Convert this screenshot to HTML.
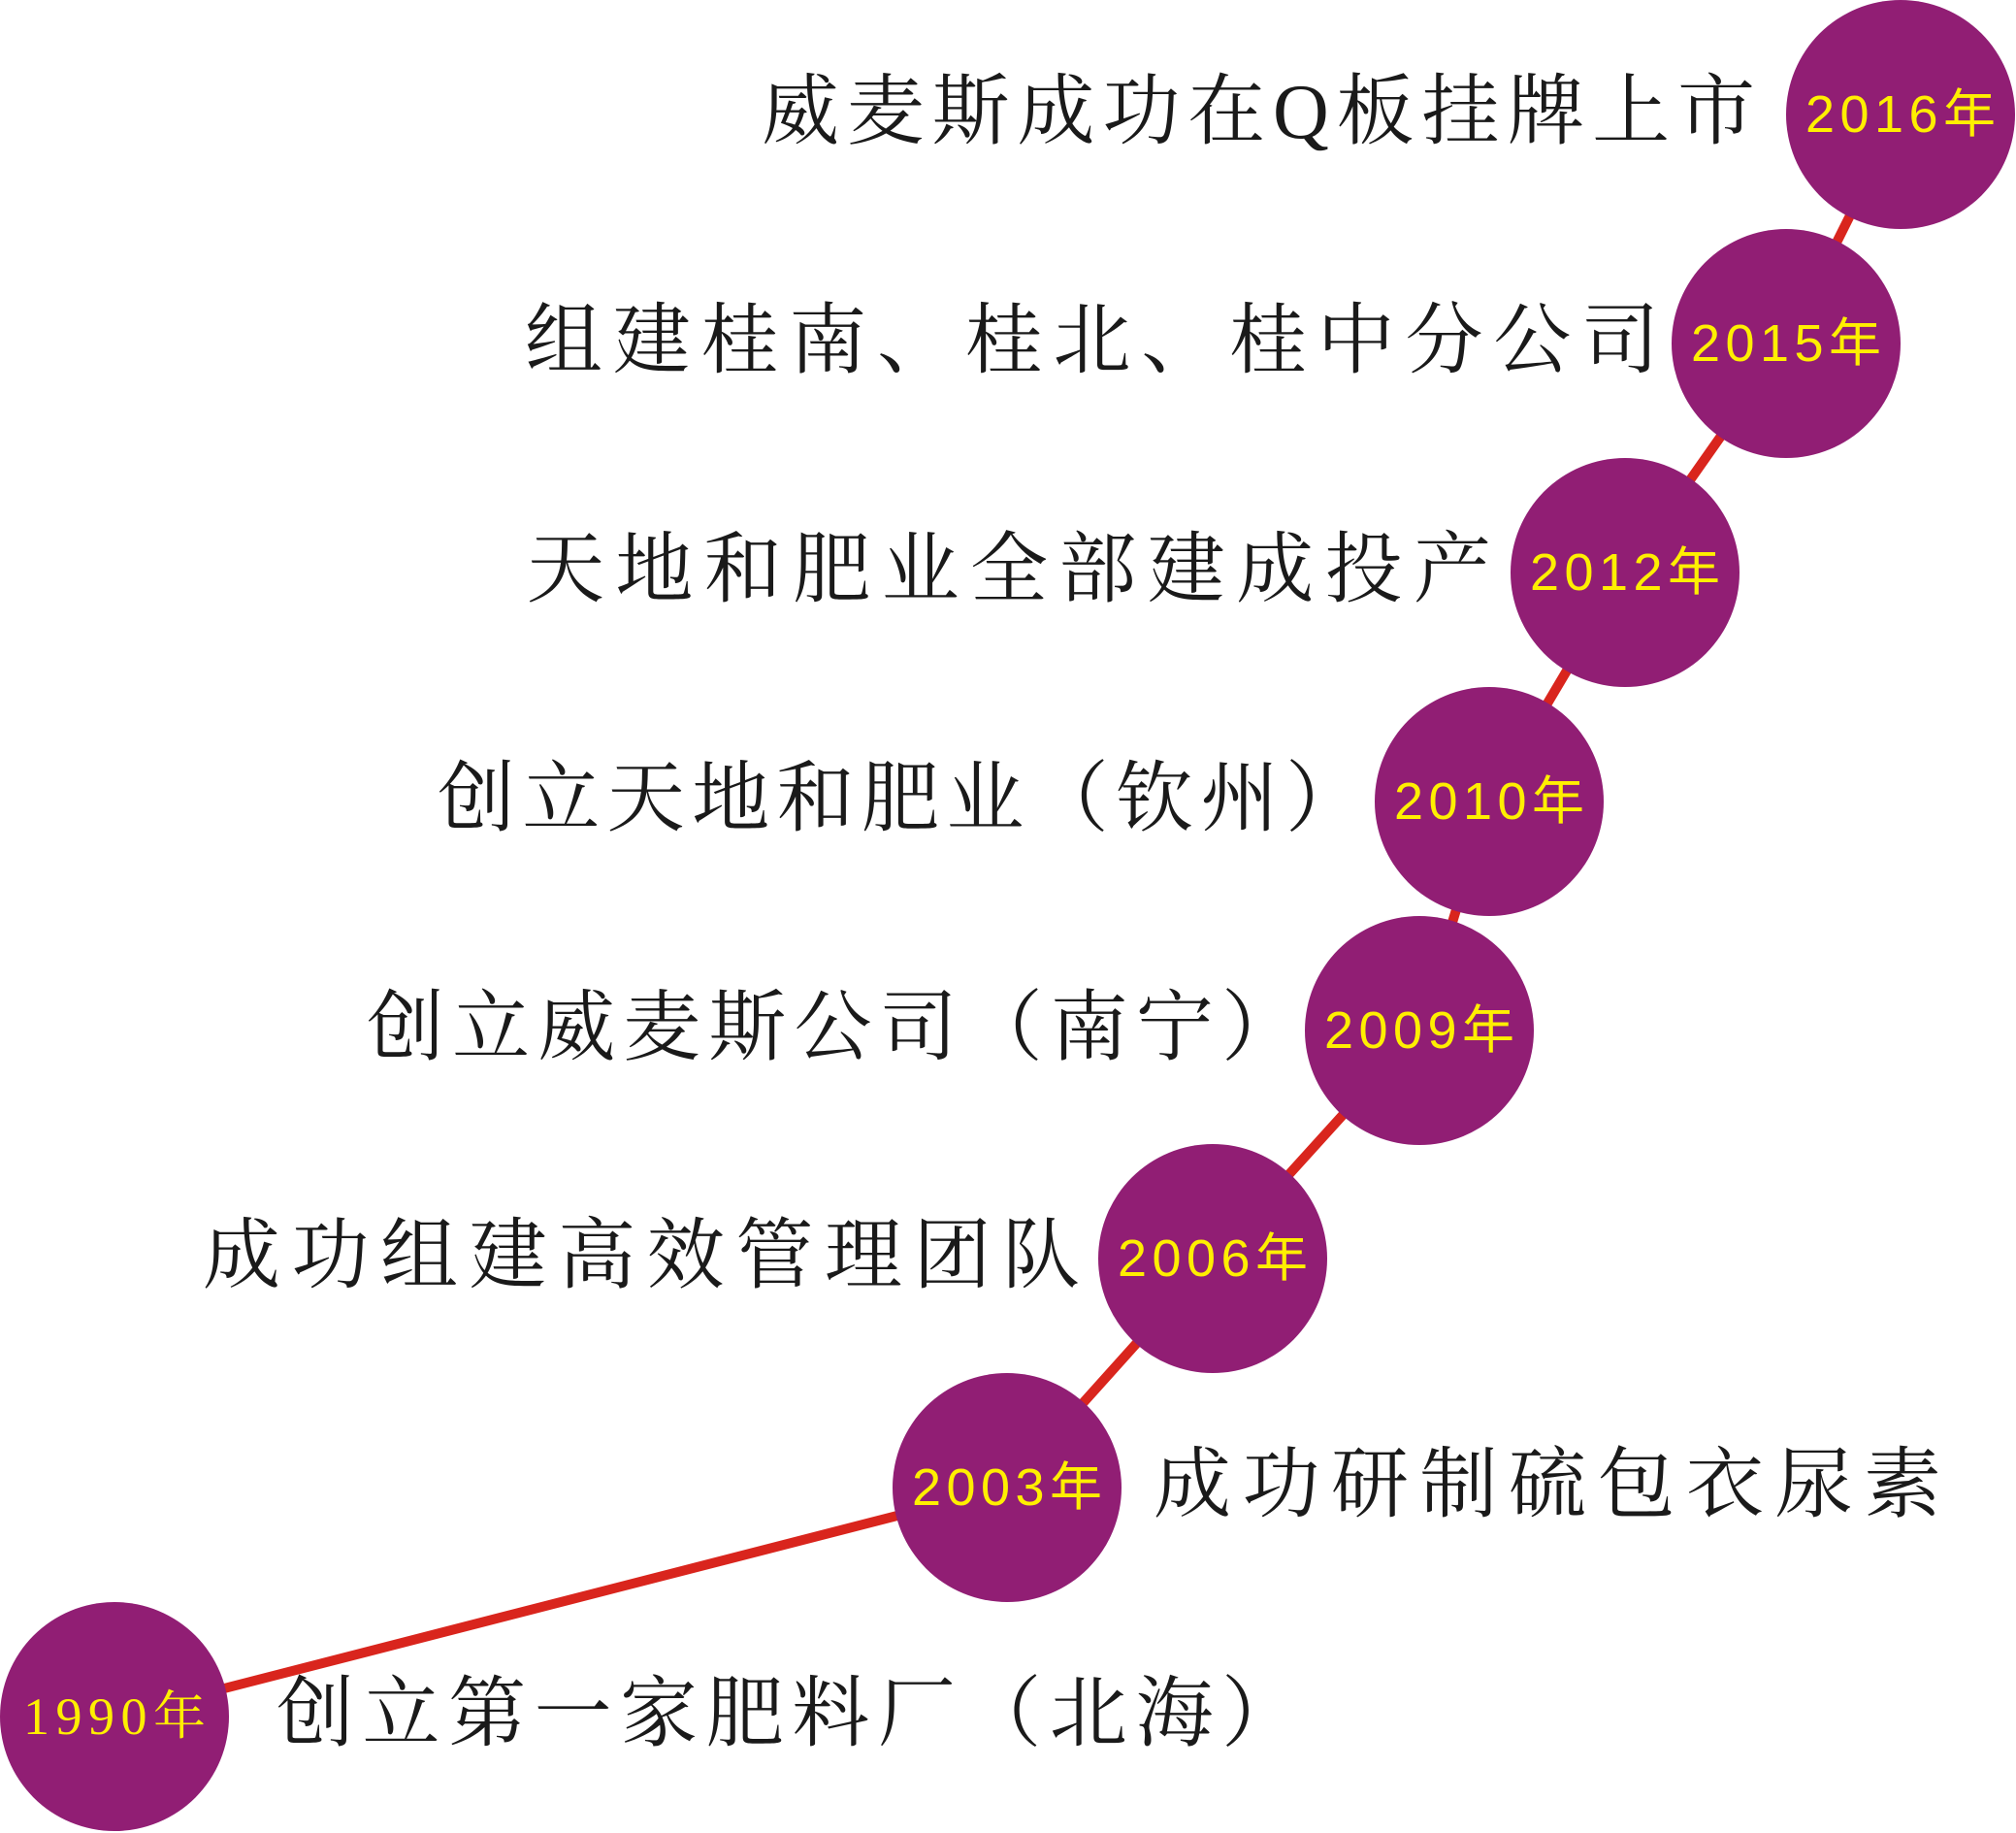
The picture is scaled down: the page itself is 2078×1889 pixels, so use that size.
<!DOCTYPE html>
<html><head><meta charset="utf-8"><style>
html,body{margin:0;padding:0;background:#fff;}
svg{display:block;}
.t{font-family:"Liberation Serif","Noto Serif CJK SC","Noto Sans CJK SC",serif;font-size:80px;fill:#1a1a1a;dominant-baseline:central;}
.y{font-family:"Liberation Sans","Noto Sans CJK SC",sans-serif;font-size:54px;fill:#ffef00;text-anchor:middle;dominant-baseline:central;}
</style></head><body>
<svg width="2078" height="1889" viewBox="0 0 2078 1889" xmlns="http://www.w3.org/2000/svg">
<polyline points="118,1769 1038,1533 1250,1297 1463,1062 1535,826 1675,590 1841,354 1959,118" fill="none" stroke="#d9251d" stroke-width="10"/>
<g fill="#911e74">
<circle cx="1959" cy="118" r="118"/>
<circle cx="1841" cy="354" r="118"/>
<circle cx="1675" cy="590" r="118"/>
<circle cx="1535" cy="826" r="118"/>
<circle cx="1463" cy="1062" r="118"/>
<circle cx="1250" cy="1297" r="118"/>
<circle cx="1038" cy="1533" r="118"/>
<circle cx="118" cy="1769" r="118"/>
</g>
<text class="y" x="1959" y="118" textLength="196">2016年</text>
<text class="y" x="1841" y="354" textLength="196">2015年</text>
<text class="y" x="1675" y="590" textLength="196">2012年</text>
<text class="y" x="1535" y="826" textLength="196">2010年</text>
<text class="y" x="1463" y="1062" textLength="196">2009年</text>
<text class="y" x="1250" y="1297" textLength="196">2006年</text>
<text class="y" x="1038" y="1533" textLength="196">2003年</text>
<text class="y" x="118" y="1769" textLength="188" style="font-family:'Liberation Serif','Noto Serif CJK SC',serif">1990年</text>
<text class="t" x="785" y="116" textLength="1024" lengthAdjust="spacing">威麦斯成功在Q板挂牌上市</text>
<text class="t" x="541" y="352" textLength="1169" lengthAdjust="spacing">组建桂南、桂北、桂中分公司</text>
<text class="t" x="543" y="588" textLength="994" lengthAdjust="spacing">天地和肥业全部建成投产</text>
<text class="t" x="451" y="824" textLength="954" lengthAdjust="spacing">创立天地和肥业（钦州）</text>
<text class="t" x="378" y="1060" textLength="961" lengthAdjust="spacing">创立威麦斯公司（南宁）</text>
<text class="t" x="209" y="1295" textLength="904" lengthAdjust="spacing">成功组建高效管理团队</text>
<text class="t" x="1189" y="1531" textLength="812" lengthAdjust="spacing">成功研制硫包衣尿素</text>
<text class="t" x="285" y="1767" textLength="1054" lengthAdjust="spacing">创立第一家肥料厂（北海）</text>
</svg>
</body></html>
